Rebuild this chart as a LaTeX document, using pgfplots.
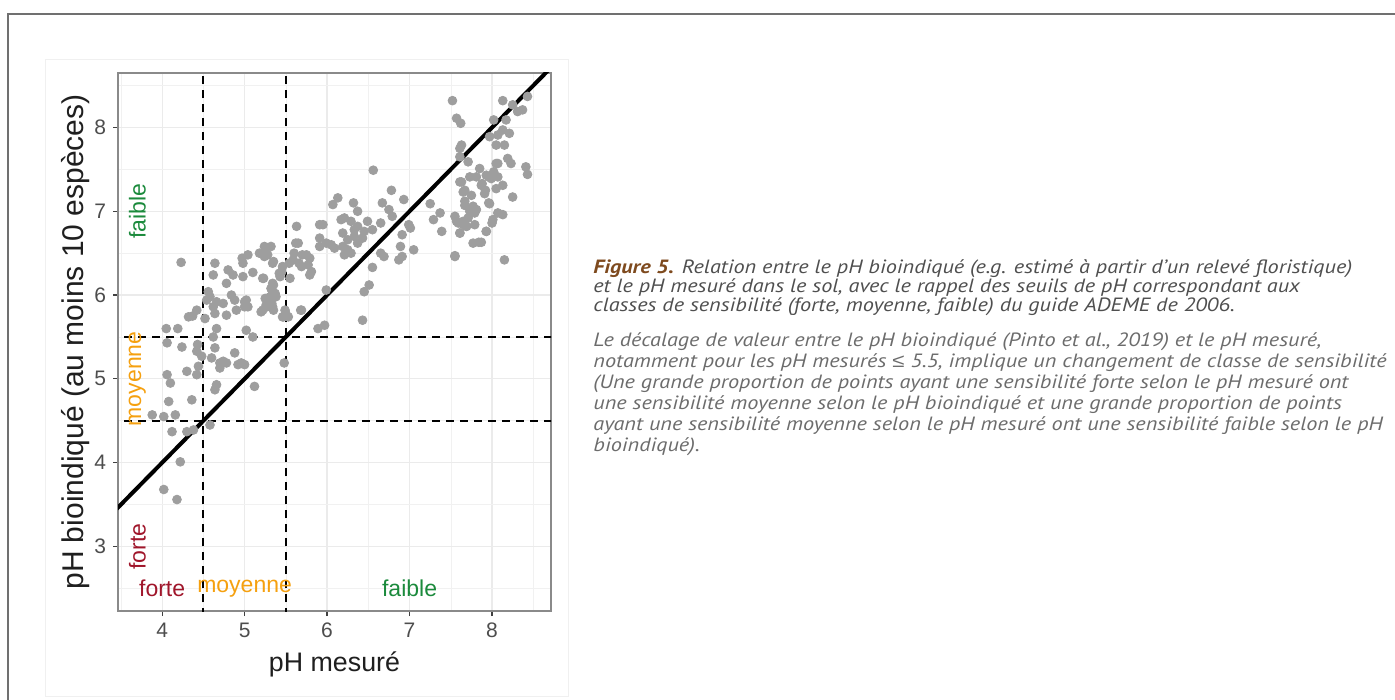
\documentclass[border=0pt]{standalone}
\usepackage{fontspec}
\setmainfont{Liberation Sans}
\newfontfamily\capfont[FakeStretch=1.16]{PT Sans}
\newfontfamily\symfont[FakeStretch=1.16]{Liberation Sans}
\usepackage{pgfplots}
\pgfplotsset{compat=1.18}
\definecolor{forte}{HTML}{A0162B}
\definecolor{moyenne}{HTML}{F5A00F}
\definecolor{faible}{HTML}{1B8A3C}
\definecolor{pointgray}{HTML}{9E9E9E}
\definecolor{gridgray}{HTML}{EBEBEB}
\definecolor{boxgray}{HTML}{8A8A8A}
\definecolor{tickgray}{HTML}{4D4D4D}
\definecolor{framegray}{HTML}{707070}
\definecolor{figbrown}{HTML}{7E4A1E}
\definecolor{captxt}{HTML}{4F4F4F}
\definecolor{captxtb}{HTML}{6C6C6C}

\pgfplotstableread{
x y
4.23 6.39
4.64 6.38
4.62 6.24
4.80 6.30
4.86 6.24
4.78 6.14
4.98 6.38
5.04 6.48
5.18 6.50
5.24 6.58
5.32 6.58
5.28 6.48
5.34 6.38
5.10 6.27
5.22 6.20
4.98 6.22
5.34 6.14
5.42 6.26
5.46 6.34
5.54 6.38
5.62 6.62
5.60 6.50
5.70 6.48
5.66 6.38
5.32 6.08
5.34 6.02
5.38 5.98
5.28 5.96
5.26 5.88
5.22 5.82
5.34 5.86
5.46 5.74
5.50 5.78
5.68 5.82
4.56 6.04
4.58 5.98
4.66 5.92
4.74 5.90
4.62 5.86
4.64 5.78
4.54 5.94
4.52 5.72
4.42 5.82
4.32 5.74
4.37 5.75
4.78 5.76
4.84 6.00
4.88 5.94
4.90 5.82
5.00 5.92
5.04 5.86
4.66 5.60
4.62 5.50
5.02 5.58
5.10 5.50
4.05 5.60
4.19 5.60
4.06 5.43
4.24 5.38
4.43 5.41
4.42 5.33
4.48 5.27
4.60 5.25
4.64 5.37
4.70 5.19
4.74 5.21
4.78 5.19
4.70 5.13
4.88 5.31
4.96 5.19
5.00 5.17
4.92 5.17
4.44 5.15
4.42 5.05
4.30 5.09
4.06 5.05
4.10 4.95
4.66 4.93
4.64 4.87
5.12 4.91
4.08 4.73
4.36 4.75
5.48 5.19
3.88 4.57
4.02 4.55
4.16 4.57
4.12 4.37
4.30 4.37
4.38 4.39
4.58 4.45
4.22 4.01
4.02 3.68
4.18 3.56
6.56 7.49
6.13 7.16
6.07 7.08
6.32 7.10
6.67 7.10
6.78 7.25
6.75 7.02
6.37 7.00
6.17 6.90
6.21 6.92
6.29 6.88
6.19 6.74
6.33 6.78
6.37 6.82
6.49 6.88
6.45 6.76
6.55 6.78
6.65 6.86
6.33 6.70
6.25 6.66
6.19 6.58
6.25 6.54
6.37 6.62
6.43 6.68
6.29 6.50
6.21 6.48
5.91 6.84
5.95 6.84
5.91 6.68
5.91 6.58
5.99 6.62
6.05 6.60
6.09 6.56
5.63 6.82
5.65 6.62
5.59 6.42
5.69 6.34
5.75 6.48
5.79 6.44
5.77 6.36
5.81 6.28
5.79 6.24
5.55 6.20
5.45 6.28
5.43 6.22
5.26 6.50
5.24 6.46
4.97 6.44
5.23 6.20
5.35 6.40
5.35 6.12
5.33 6.06
5.37 6.02
5.31 5.98
5.25 5.96
5.33 5.90
5.27 5.86
5.35 5.82
5.20 5.80
5.02 5.94
5.00 5.86
5.49 5.82
5.47 5.74
5.53 5.74
5.69 5.82
5.99 6.06
5.89 5.60
5.97 5.64
6.43 5.70
6.45 6.04
6.51 6.12
6.55 6.33
6.65 6.50
6.69 6.46
6.93 7.14
6.79 6.94
6.99 6.84
7.01 6.80
6.91 6.72
6.89 6.58
7.05 6.54
6.91 6.46
6.87 6.42
7.25 7.09
7.29 6.90
7.37 6.98
7.39 6.76
7.55 6.47
7.61 7.35
7.67 7.25
7.67 7.12
7.77 7.06
7.79 6.98
7.59 6.86
7.65 6.84
7.69 6.82
7.61 6.74
7.77 6.62
7.84 6.63
7.93 6.76
8.00 6.86
7.96 7.10
7.92 7.25
7.88 7.33
7.96 7.41
8.02 7.47
8.05 7.57
8.07 6.98
8.15 6.42
7.52 8.32
8.13 8.32
7.57 8.11
7.62 8.05
8.02 8.09
8.25 8.27
8.31 8.19
8.37 8.21
8.43 8.37
8.17 8.09
8.13 7.97
8.07 7.91
7.97 7.89
8.21 7.93
8.05 7.79
8.15 7.79
7.63 7.79
7.61 7.75
7.61 7.65
7.71 7.59
7.85 7.51
8.19 7.63
8.23 7.57
8.41 7.53
8.43 7.44
8.07 7.57
7.93 7.43
7.99 7.39
8.07 7.41
7.81 7.41
7.73 7.41
7.63 7.35
7.87 7.31
8.13 7.31
8.05 7.27
7.65 7.23
7.75 7.19
7.91 7.21
8.25 7.17
7.67 7.07
7.97 7.09
7.55 6.94
7.57 6.88
7.65 6.88
7.71 6.92
7.73 7.00
7.77 7.04
7.81 7.02
7.69 6.82
7.79 6.84
8.13 6.96
8.01 6.90
7.93 6.76
7.61 6.74
7.87 6.63
7.55 6.46
}\pts

\begin{document}
\begin{tikzpicture}
\begin{scope}[x=0.5pt,y=-0.5pt]
\useasboundingbox (0,0) rectangle (1395,700);
\draw[color=framegray, line width=1pt] (8,700) -- (8,14) -- (1395,14);
\draw[color=black!6, line width=0.5pt] (45,60) rectangle (568,696);
\begin{scope}[every node/.style={anchor=base west, inner sep=0pt, font=\capfont\itshape\fontsize{9.6}{11}\selectfont}]
\node[text=captxt] at (593,273) {{\bfseries\color{figbrown}Figure 5.} Relation entre le pH bioindiqué (e.g. estimé à partir d’un relevé floristique)};
\node[text=captxt] at (593,292) {et le pH mesuré dans le sol, avec le rappel des seuils de pH correspondant aux};
\node[text=captxt] at (593,311) {classes de sensibilité (forte, moyenne, faible) du guide ADEME de 2006.};
\node[text=captxtb] at (593,346) {Le décalage de valeur entre le pH bioindiqué (Pinto et al., 2019) et le pH mesuré,};
\node[text=captxtb] at (593,367) {notamment pour les pH mesurés {\symfont\itshape ≤} 5.5, implique un changement de classe de sensibilité};
\node[text=captxtb] at (593,388) {(Une grande proportion de points ayant une sensibilité forte selon le pH mesuré ont};
\node[text=captxtb] at (593,409) {une sensibilité moyenne selon le pH bioindiqué et une grande proportion de points};
\node[text=captxtb] at (593,430) {ayant une sensibilité moyenne selon le pH mesuré ont une sensibilité faible selon le pH};
\node[text=captxtb] at (593,451) {bioindiqué).};
\end{scope}
\end{scope}
\begin{axis}[
  at={(59pt,-305.5pt)}, anchor=south west,
  scale only axis, width=216.5pt, height=269pt,
  xmin=3.465, xmax=8.715, ymin=2.23, ymax=8.65,
  xtick={4,5,6,7,8}, ytick={3,4,5,6,7,8},
  minor xtick={3.5,4.5,5.5,6.5,7.5,8.5},
  minor ytick={2.5,3.5,4.5,5.5,6.5,7.5,8.5},
  grid=both,
  major grid style={color=gridgray, line width=0.6pt},
  minor grid style={color=gridgray!70, line width=0.3pt},
  axis line style={color=boxgray, line width=0.7pt},
  tick align=outside, major tick length=2.5pt, minor tick length=0pt,
  xtick pos=bottom, ytick pos=left,
  tick style={color=black!75, line width=0.6pt},
  ticklabel style={font=\fontsize{10.5}{12}\selectfont, text=tickgray},
  /pgf/number format/assume math mode=true,
  xlabel={pH mesuré}, ylabel={pH bioindiqué (au moins 10 espèces)},
  xlabel style={font=\fontsize{13.4}{15}\selectfont, text=black!88, at={(axis description cs:0.5,-0.1)}, anchor=center},
  ylabel style={font=\fontsize{15}{17}\selectfont, text=black!88, at={(axis description cs:-0.099,0.5)}, anchor=center},
]
\addplot[only marks, mark=*, mark size=2.2pt, color=pointgray, mark options={draw=none, fill=pointgray}] table {\pts};
\addplot[black, line width=2pt] coordinates {(3.2,3.2) (9,9)};
\addplot[black, dashed, line width=0.9pt, dash pattern=on 4pt off 3pt] coordinates {(4.5,2.0) (4.5,9)};
\addplot[black, dashed, line width=0.9pt, dash pattern=on 4pt off 3pt] coordinates {(5.5,2.0) (5.5,9)};
\addplot[black, dashed, line width=0.9pt, dash pattern=on 4pt off 3pt] coordinates {(3.2,4.5) (9,4.5)};
\addplot[black, dashed, line width=0.9pt, dash pattern=on 4pt off 3pt] coordinates {(3.2,5.5) (9,5.5)};
\node[text=forte, font=\fontsize{11.5}{13}\selectfont] at (axis cs:4,2.5) {forte};
\node[text=moyenne, font=\fontsize{11.5}{13}\selectfont] at (axis cs:5,2.5) {moyenne};
\node[text=faible, font=\fontsize{11.5}{13}\selectfont] at (axis cs:7,2.5) {faible};
\node[text=forte, rotate=90, font=\fontsize{11.5}{13}\selectfont] at (axis cs:3.7,3) {forte};
\node[text=moyenne, rotate=90, font=\fontsize{11.5}{13}\selectfont] at (axis cs:3.7,5) {moyenne};
\node[text=faible, rotate=90, font=\fontsize{11.5}{13}\selectfont] at (axis cs:3.7,7) {faible};
\end{axis}
\end{tikzpicture}
\end{document}
